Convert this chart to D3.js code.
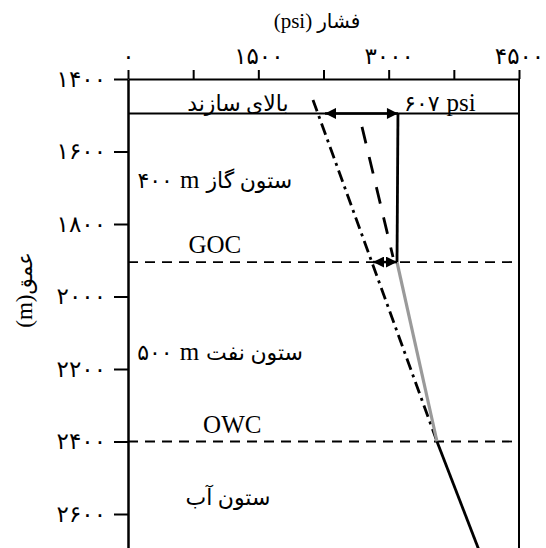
<!DOCTYPE html>
<html>
<head>
<meta charset="utf-8">
<script src="https://cdn.jsdelivr.net/npm/d3@7"></script>
<style>
  html, body { margin: 0; padding: 0; background: #fff; }
  svg { display: block; }
  text { font-family: "Liberation Serif", "DejaVu Sans", serif; fill: #000; }
</style>
</head>
<body>
<div id="chart"></div>
<script>
// ---- data (pressure in psi, depth in m) ----
const pressureTicks = [0, 750, 1500, 2250, 3000, 3750, 4500];
const pressureLabels = ["۰", "", "۱۵۰۰", "", "۳۰۰۰", "", "۴۵۰۰"];
const depthTicks = [1400, 1600, 1800, 2000, 2200, 2400, 2600];
const depthLabels = ["۱۴۰۰", "۱۶۰۰", "۱۸۰۰", "۲۰۰۰", "۲۲۰۰", "۲۴۰۰", "۲۶۰۰"];
const contactNames = ["top", "GOC", "OWC"];
const contactDepths = [1495, 1905, 2400];
const gasLine = [[1495, 3107], [1905, 3096]];
const oilLine = [[1905, 3096], [2400, 3556]];
const waterLine = [[2400, 3556], [2700, 4040]];
const waterExtension = [[1458, 2129], [2400, 3556]];
const oilExtension = [[1532, 2693], [1891, 3050]];
const topArrow = [1495, 2267, 3107];   // depth, from psi, to psi
const gocArrow = [1905, 2820, 3096];
// label pieces in visual (left-to-right) order: [text, isLatin]
const zoneLabels = [
  { parts: [["بالای سازند", false]], depth: 1488, psi: 1265 },
  { parts: [["۶۰۷", false], ["psi", true]], depth: 1488, psi: 3590 },
  { parts: [["۴۰۰", false], ["m", true], ["ستون گاز", false]], depth: 1700, psi: 1000 },
  { parts: [["GOC", true]], depth: 1880, psi: 1000 },
  { parts: [["۵۰۰", false], ["m", true], ["ستون نفت", false]], depth: 2175, psi: 1060 },
  { parts: [["OWC", true]], depth: 2376, psi: 1200 },
  { parts: [["ستون آب", false]], depth: 2575, psi: 1150 }
];
const titleParts = [["(psi)", true], ["فشار", false]];
const yTitleParts = [["(m)", true], ["عمق", false]];

const W = 546, H = 548;
const x = d3.scaleLinear().domain([0, 4500]).range([128, 519]);
const y = d3.scaleLinear().domain([1400, 2700]).range([79, 550.25]);

const svg = d3.select("#chart").append("svg").attr("width", W).attr("height", H);

// draw pieces left-to-right, centred on cx
function row(g, parts, cx, cy, latinSize, arabicSize, gap) {
  const els = parts.map(p => g.append("text").attr("y", cy)
    .style("font-size", (p[1] ? latinSize : arabicSize) + "px").text(p[0]));
  const widths = els.map(e => e.node().getComputedTextLength());
  const total = d3.sum(widths) + gap * (parts.length - 1);
  let cur = cx - total / 2;
  els.forEach((e, i) => { e.attr("x", cur); cur += widths[i] + gap; });
}

// title
row(svg, titleParts, 317, 28, 21, 20, 5);

// top axis
const xAxis = d3.axisTop(x).tickValues(pressureTicks).tickSize(9).tickSizeOuter(0)
  .tickPadding(6).tickFormat((d, i) => pressureLabels[i]);
const gx = svg.append("g").attr("transform", `translate(0,${y(1400)})`).call(xAxis);
gx.select(".domain").attr("stroke-width", 2);
gx.selectAll(".tick line").attr("stroke-width", 2);
gx.selectAll(".tick text").style("font-size", "23px").style("font-family", "DejaVu Sans");

// left axis
const yAxis = d3.axisLeft(y).tickValues(depthTicks).tickSize(14).tickSizeOuter(0)
  .tickPadding(8).tickFormat((d, i) => depthLabels[i]);
const gy = svg.append("g").attr("transform", `translate(${x(0)},0)`).call(yAxis);
gy.select(".domain").attr("stroke-width", 2.5);
gy.selectAll(".tick line").attr("stroke-width", 2);
gy.selectAll(".tick text").style("font-size", "23px").style("font-family", "DejaVu Sans");

// y label
const gyl = svg.append("g").attr("transform", "translate(32,290) rotate(-90)");
row(gyl, yTitleParts, 0, 0, 23, 21, 0);

// right border
svg.append("line").attr("x1", x(4500)).attr("x2", x(4500))
  .attr("y1", y(1400)).attr("y2", y(2700)).attr("stroke", "#000").attr("stroke-width", 2);

// contact lines
contactDepths.forEach((d, i) => {
  svg.append("line").attr("x1", x(0)).attr("x2", x(4500)).attr("y1", y(d)).attr("y2", y(d))
    .attr("stroke", "#000").attr("stroke-width", i === 0 ? 2 : 1.8)
    .attr("stroke-dasharray", i === 0 ? null : "10,7");
});

const line = d3.line().x(d => x(d[1])).y(d => y(d[0]));

svg.append("path").datum(waterExtension).attr("d", line).attr("fill", "none")
  .attr("stroke", "#000").attr("stroke-width", 2.8).attr("stroke-dasharray", "12,5,3,5");
svg.append("path").datum(oilExtension).attr("d", line).attr("fill", "none")
  .attr("stroke", "#000").attr("stroke-width", 2.8).attr("stroke-dasharray", "17,14");
svg.append("path").datum(gasLine).attr("d", line).attr("fill", "none")
  .attr("stroke", "#000").attr("stroke-width", 2.8);
svg.append("path").datum(oilLine).attr("d", line).attr("fill", "none")
  .attr("stroke", "#9a9a9a").attr("stroke-width", 3.2);
svg.append("path").datum(waterLine).attr("d", line).attr("fill", "none")
  .attr("stroke", "#000").attr("stroke-width", 2.8);

// arrows
const defs = svg.append("defs");
defs.append("marker").attr("id", "ah").attr("viewBox", "0 0 10 10").attr("refX", 10).attr("refY", 5)
  .attr("markerWidth", 14).attr("markerHeight", 11).attr("markerUnits", "userSpaceOnUse")
  .attr("orient", "auto-start-reverse")
  .append("path").attr("d", "M0,0 L10,5 L0,10 Z").attr("fill", "#000");
[topArrow, gocArrow].forEach(a => {
  svg.append("line").attr("x1", x(a[1])).attr("x2", x(a[2])).attr("y1", y(a[0])).attr("y2", y(a[0]))
    .attr("stroke", "#000").attr("stroke-width", 2.5)
    .attr("marker-start", "url(#ah)").attr("marker-end", "url(#ah)");
});

// labels
zoneLabels.forEach(l => row(svg, l.parts, x(l.psi), y(l.depth), 25, 22, 7));
</script>
</body>
</html>
